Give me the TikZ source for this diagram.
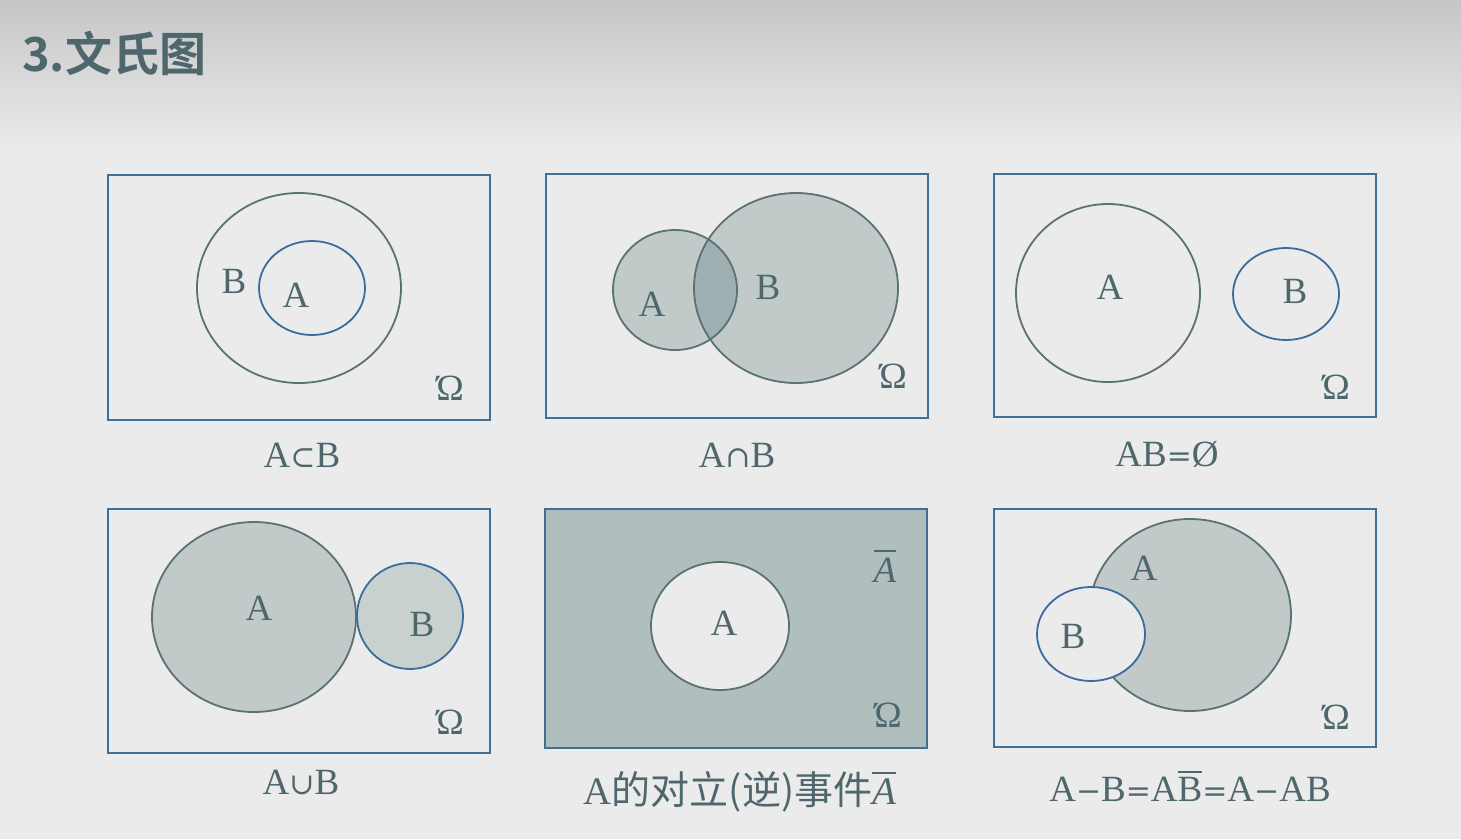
\documentclass[tikz,border=0pt]{standalone}
\usepackage{fontspec}
\setmainfont{Liberation Serif}
\newfontfamily\cjk{Noto Sans CJK SC}
\newfontfamily\cjkbold{Noto Sans CJK SC Bold}
\newfontfamily\symf{DejaVu Serif}
\newcommand{\ovl}[2][2pt]{\leavevmode\vbox{\hrule height 2pt\kern#1\hbox{#2}}}
\definecolor{bgtop}{HTML}{C6C6C6}
\definecolor{bgc}{HTML}{EBEBEB}
\definecolor{textc}{HTML}{4E676D}
\definecolor{framec}{HTML}{3F6F95}
\definecolor{grayline}{HTML}{5A7272}
\definecolor{blueline}{HTML}{3B6C9C}
\definecolor{fillA}{HTML}{C1CAC8}
\definecolor{fillB}{HTML}{C9D1CF}
\definecolor{fillX}{HTML}{9FAFB1}
\definecolor{fillC}{HTML}{B1BEBE}
\tikzset{
  frame/.style={draw=framec, line width=2pt},
  gline/.style={draw=grayline, line width=1.8pt},
  bline/.style={draw=blueline, line width=1.8pt},
  lbl/.style={text=textc, inner sep=0pt, font=\fontsize{37}{40}\selectfont},
  captext/.style={text=textc, inner sep=0pt, font=\fontsize{37}{40}\selectfont},
}
\begin{document}
\begin{tikzpicture}[x=1pt,y=-1pt]
\useasboundingbox (0,0) rectangle (1461,839);
% background
\fill[bgc] (0,0) rectangle (1461,839);
\shade[top color=bgtop, bottom color=bgc] (0,0) rectangle (1461,150);
% title
\node[anchor=west, text=textc, inner sep=0pt, font=\cjkbold\fontsize{47}{47}\selectfont] (title) at (22,53) {3.文氏图};

% ---------- Panel 1: A subset B
\draw[frame] (108,175) rectangle (490,420);
\draw[gline] (299,288) ellipse [x radius=102, y radius=95];
\draw[bline] (312,288) ellipse [x radius=53, y radius=47];
\node[lbl] (p1B) at (234,281) {B};
\node[lbl] (p1A) at (296,295) {A};
\node[lbl] (p1O) at (450,388) {Ώ};
\node[captext] (p1c) at (302,455) {A{\symf\fontsize{30}{30}\selectfont ⊂}B};

% ---------- Panel 2: A cap B
\draw[frame] (546,174) rectangle (928,418);
\fill[fillA] (675,290) ellipse [x radius=62, y radius=60];
\fill[fillA] (796,288) ellipse [x radius=102, y radius=95];
\begin{scope}
  \clip (675,290) ellipse [x radius=62, y radius=60];
  \fill[fillX] (796,288) ellipse [x radius=102, y radius=95];
\end{scope}
\draw[gline] (675,290) ellipse [x radius=62, y radius=60];
\draw[gline] (796,288) ellipse [x radius=102, y radius=95];
\node[lbl] (p2A) at (652,304) {A};
\node[lbl] (p2B) at (768,287) {B};
\node[lbl] (p2O) at (893,376) {Ώ};
\node[captext] (p2c) at (737,455) {A{\symf\fontsize{30}{30}\selectfont ∩}B};

% ---------- Panel 3: AB = empty
\draw[frame] (994,174) rectangle (1376,417);
\draw[gline] (1108,293) ellipse [x radius=92, y radius=89];
\draw[bline] (1286,294) ellipse [x radius=53, y radius=46];
\node[lbl] (p3A) at (1110,287) {A};
\node[lbl] (p3B) at (1295,291) {B};
\node[lbl] (p3O) at (1336,387) {Ώ};
\node[captext] (p3c) at (1167,454) {AB{\symf\fontsize{30}{30}\selectfont =}Ø};

% ---------- Panel 4: A cup B
\draw[frame] (108,509) rectangle (490,753);
\fill[fillA] (254,617) ellipse [x radius=102, y radius=95];
\draw[gline] (254,617) ellipse [x radius=102, y radius=95];
\fill[fillB] (410,616) ellipse [x radius=53, y radius=53];
\draw[bline] (410,616) ellipse [x radius=53, y radius=53];
\node[lbl] (p4A) at (259,608) {A};
\node[lbl] (p4B) at (422,624) {B};
\node[lbl] (p4O) at (450,722) {Ώ};
\node[captext] (p4c) at (301,782) {A{\symf\fontsize{30}{30}\selectfont ∪}B};

% ---------- Panel 5: complement
\draw[frame, fill=fillC] (545,509) rectangle (927,748);
\fill[bgc] (720,626) ellipse [x radius=69, y radius=64];
\draw[gline] (720,626) ellipse [x radius=69, y radius=64];
\node[lbl] (p5A) at (724,623) {A};
\node[lbl] (p5Abar) at (885,566) {\ovl[6pt]{\itshape A}};
\node[lbl] (p5O) at (888,715) {Ώ};
\node[captext, anchor=base, font=\fontsize{39}{42}\selectfont] (p5c) at (740,804) {A{\cjk 的对立(逆)事件}\ovl[4pt]{\itshape A}};

% ---------- Panel 6: A - B
\draw[frame] (994,509) rectangle (1376,747);
\fill[fillA] (1190,615) ellipse [x radius=101, y radius=96];
\draw[gline] (1190,615) ellipse [x radius=101, y radius=96];
\fill[bgc] (1091,634) ellipse [x radius=54, y radius=47];
\draw[bline] (1091,634) ellipse [x radius=54, y radius=47];
\node[lbl] (p6A) at (1144,568) {A};
\node[lbl] (p6B) at (1073,636) {B};
\node[lbl] (p6O) at (1336,717) {Ώ};
\node[captext, anchor=base] (p6c) at (1190,801) {A{\symf\fontsize{30}{30}\selectfont −}B{\symf\fontsize{30}{30}\selectfont =}A\ovl[4pt]{B}{\symf\fontsize{30}{30}\selectfont =}A{\symf\fontsize{30}{30}\selectfont −}AB};
\end{tikzpicture}
\end{document}
